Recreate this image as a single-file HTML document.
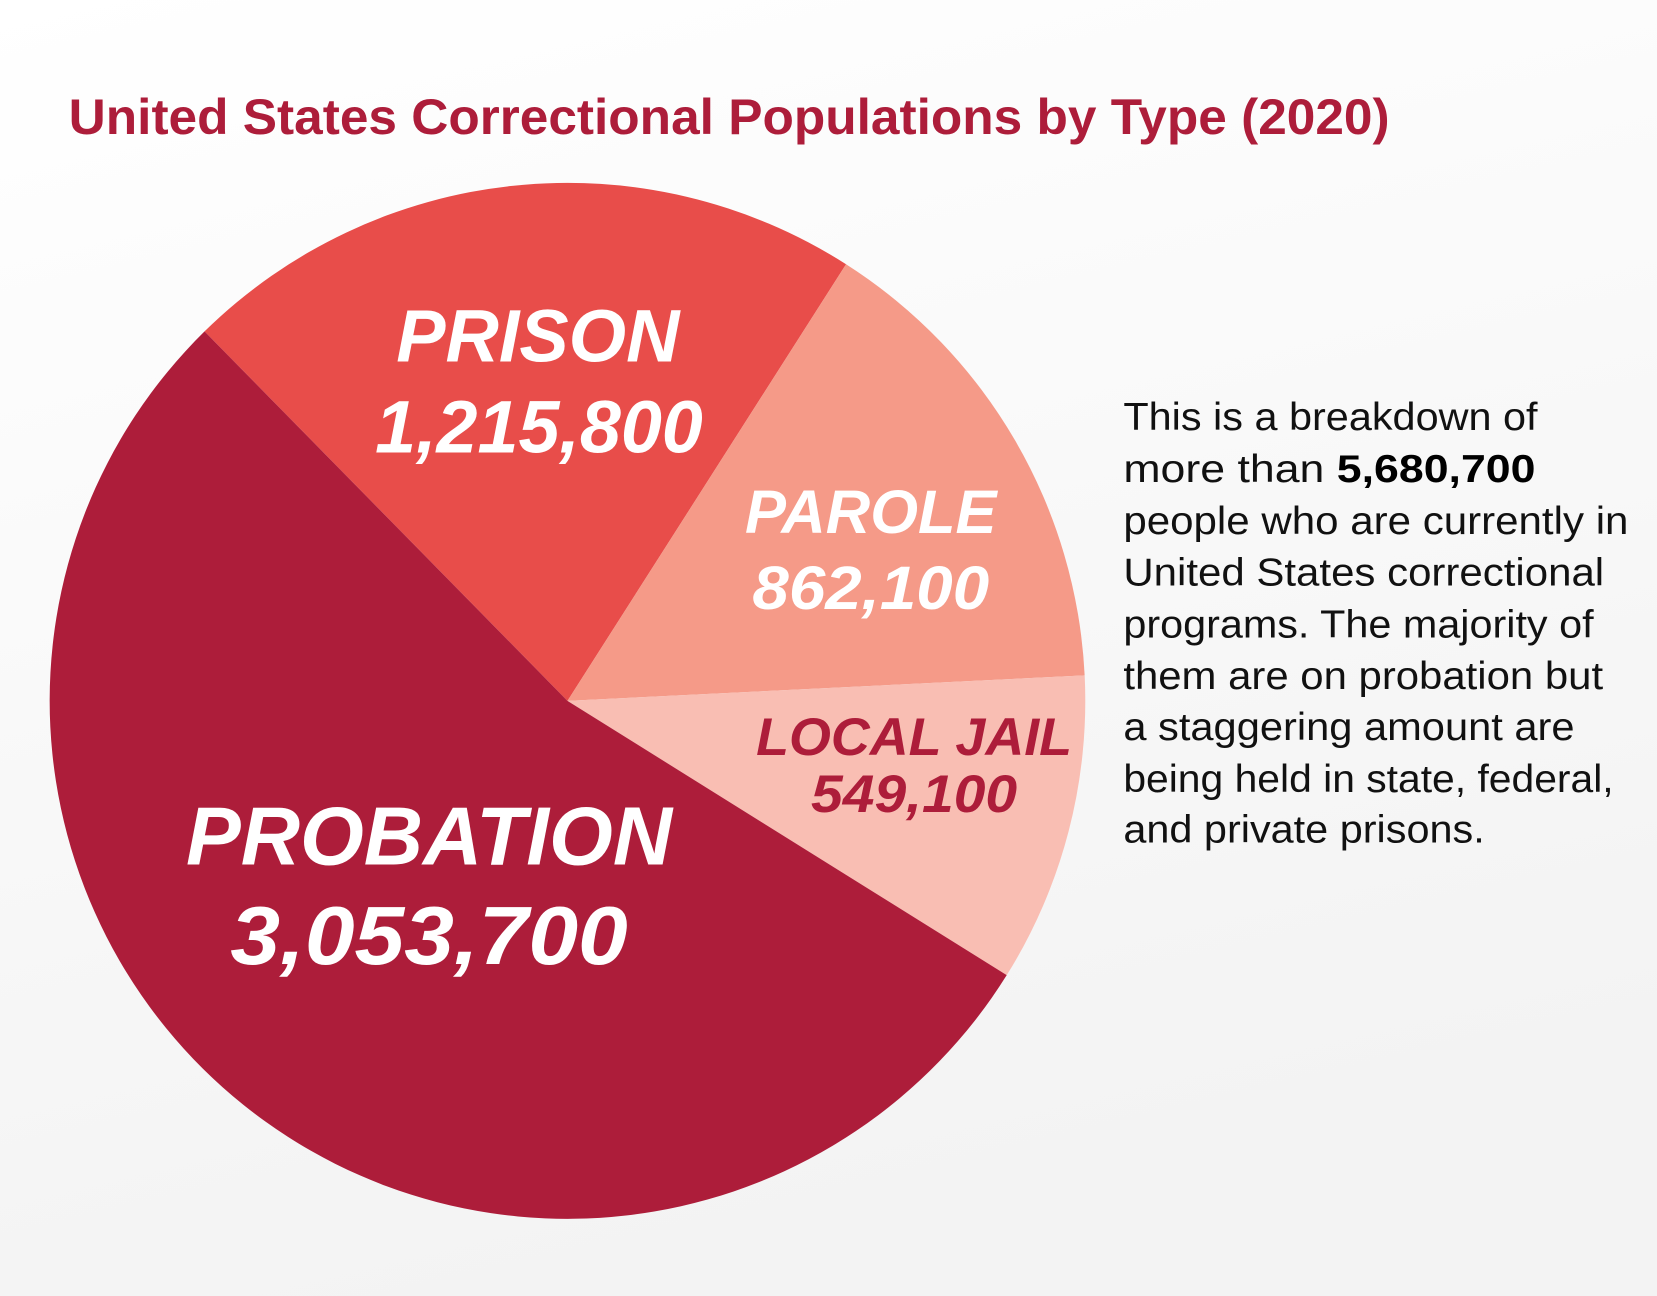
<!DOCTYPE html>
<html>
<head>
<meta charset="utf-8">
<style>
  html,body{margin:0;padding:0;}
  body{width:1657px;height:1296px;overflow:hidden;background:#f7f7f7;}
  svg{display:block;}
  text{font-family:"Liberation Sans",Arial,sans-serif;}
</style>
</head>
<body>
<svg id="chart" width="1657" height="1296" viewBox="0 0 1568 1226" preserveAspectRatio="none" xmlns="http://www.w3.org/2000/svg">
  <defs>
    <linearGradient id="bg" x1="0" y1="0" x2="0.3" y2="1">
      <stop offset="0" stop-color="#ffffff"/>
      <stop offset="1" stop-color="#f3f3f3"/>
    </linearGradient>
  </defs>
  <rect x="0" y="0" width="1568" height="1226" fill="url(#bg)"/>
  <text x="65" y="127" font-size="47" font-weight="bold" fill="#ad1d3a" textLength="1250" lengthAdjust="spacingAndGlyphs">United States Correctional Populations by Type (2020)</text>
  <g id="slices"></g>
  <g id="labels" font-weight="bold" font-style="italic" text-anchor="middle">
    <text x="509" y="342" font-size="70" fill="#ffffff" textLength="268" lengthAdjust="spacingAndGlyphs">PRISON</text>
    <text x="510" y="428" font-size="70" fill="#ffffff" textLength="310" lengthAdjust="spacingAndGlyphs">1,215,800</text>
    <text x="824" y="504" font-size="58" fill="#ffffff" textLength="238" lengthAdjust="spacingAndGlyphs">PAROLE</text>
    <text x="824" y="576" font-size="58" fill="#ffffff" textLength="224" lengthAdjust="spacingAndGlyphs">862,100</text>
    <text x="865" y="714" font-size="50" fill="#ad1d3a" textLength="299" lengthAdjust="spacingAndGlyphs">LOCAL JAIL</text>
    <text x="865" y="768" font-size="50" fill="#ad1d3a" textLength="195" lengthAdjust="spacingAndGlyphs">549,100</text>
    <text x="406" y="818" font-size="78" fill="#ffffff" textLength="460" lengthAdjust="spacingAndGlyphs">PROBATION</text>
    <text x="406" y="912" font-size="78" fill="#ffffff" textLength="376" lengthAdjust="spacingAndGlyphs">3,053,700</text>
  </g>
  <g font-size="37" fill="#111111">
    <text x="1063" y="407" textLength="392" lengthAdjust="spacingAndGlyphs">This is a breakdown of</text>
    <text x="1063" y="456" textLength="390" lengthAdjust="spacingAndGlyphs">more than <tspan font-weight="bold" fill="#000">5,680,700</tspan></text>
    <text x="1063" y="505" textLength="478" lengthAdjust="spacingAndGlyphs">people who are currently in</text>
    <text x="1063" y="554" textLength="455" lengthAdjust="spacingAndGlyphs">United States correctional</text>
    <text x="1063" y="603" textLength="445" lengthAdjust="spacingAndGlyphs">programs. The majority of</text>
    <text x="1063" y="652" textLength="454" lengthAdjust="spacingAndGlyphs">them are on probation but</text>
    <text x="1063" y="700" textLength="427" lengthAdjust="spacingAndGlyphs">a staggering amount are</text>
    <text x="1063" y="749" textLength="464" lengthAdjust="spacingAndGlyphs">being held in state, federal,</text>
    <text x="1063" y="797" textLength="342" lengthAdjust="spacingAndGlyphs">and private prisons.</text>
  </g>
</svg>
<script>
const categories = ["Prison", "Parole", "Local Jail", "Probation"];
const values = [1215800, 862100, 549100, 3053700];
const colors = ["#e84d4a", "#f59a88", "#f9beb3", "#ad1d3a"];

(function(){
  const cx = 537, cy = 663, r = 490;
  const startDeg = -44.5;
  const total = values.reduce((a,b)=>a+b,0);
  const g = document.getElementById('slices');
  const ns = "http://www.w3.org/2000/svg";
  function pt(deg){
    const a = (deg - 90) * Math.PI/180;
    return [cx + r*Math.cos(a), cy + r*Math.sin(a)];
  }
  let acc = startDeg;
  values.forEach((v,i)=>{
    const sweep = v/total*360;
    const p0 = pt(acc), p1 = pt(acc+sweep);
    const large = sweep > 180 ? 1 : 0;
    const path = document.createElementNS(ns,'path');
    path.setAttribute('d', `M${cx},${cy} L${p0[0]},${p0[1]} A${r},${r} 0 ${large} 1 ${p1[0]},${p1[1]} Z`);
    path.setAttribute('fill', colors[i]);
    
    
    g.appendChild(path);
    acc += sweep;
  });
})();
</script>
</body>
</html>
